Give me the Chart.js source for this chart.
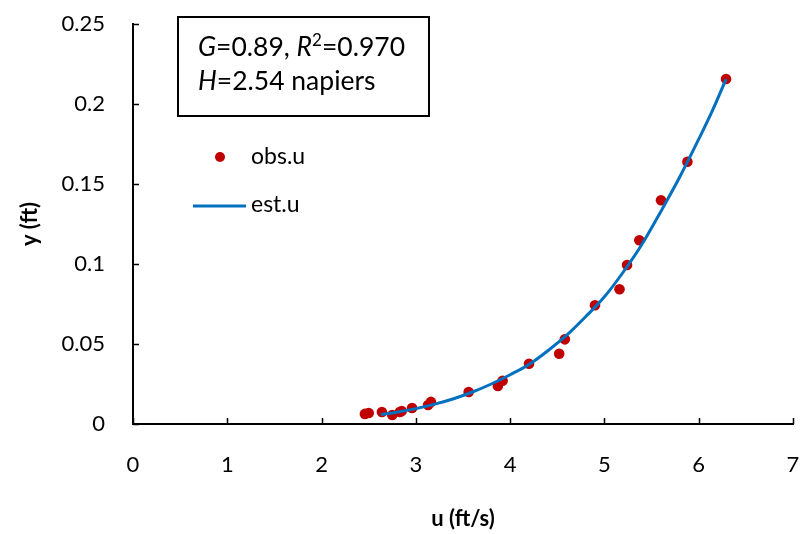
<!DOCTYPE html>
<html>
<head>
<meta charset="utf-8">
<script src="https://cdn.jsdelivr.net/npm/chart.js@4.4.1/dist/chart.umd.min.js"></script>
<style>
  html, body { margin: 0; padding: 0; background: #fff; }
  #wrap { width: 801px; height: 534px; position: relative; }
</style>
</head>
<body>
<div id="wrap"><canvas id="c" width="801" height="534"></canvas></div>
<script>
// ---- data ----
const obsU = [2.46, 2.50, 2.64, 2.75, 2.83, 2.85, 2.96, 3.13, 3.16, 3.56, 3.87, 3.92, 4.20, 4.52, 4.58, 4.90, 5.16, 5.24, 5.37, 5.60, 5.88, 6.29];
const obsY = [0.0063, 0.0069, 0.0075, 0.0056, 0.0075, 0.0081, 0.0100, 0.0119, 0.0138, 0.0200, 0.0238, 0.0270, 0.0377, 0.0439, 0.0529, 0.0742, 0.0842, 0.0994, 0.1148, 0.1398, 0.1639, 0.2156];
const estU = [2.63, 2.8, 3.0, 3.2, 3.4, 3.6, 3.8, 4.0, 4.2, 4.4, 4.6, 4.8, 5.0, 5.2, 5.4, 5.6, 5.8, 6.0, 6.15, 6.29];
const estY = [0.0060, 0.0074, 0.0096, 0.0124, 0.0158, 0.0200, 0.0250, 0.0308, 0.0372, 0.0458, 0.0555, 0.0670, 0.0795, 0.0950, 0.1125, 0.1330, 0.1545, 0.1780, 0.1965, 0.2156];
const xTicks = [0, 1, 2, 3, 4, 5, 6, 7];
const yTicks = [0, 0.05, 0.1, 0.15, 0.2, 0.25];
const seriesNames = ['obs.u', 'est.u'];
const axisTitles = ['u (ft/s)', 'y (ft)'];
const boxLine2 = ['H', '=2.54 napiers'];

const FONT = 'Lato, "Open Sans", sans-serif';
const RED = '#C00000';
const BLUE = '#0070C0';

const overlay = {
  id: 'overlay',
  afterDraw(chart) {
    const ctx = chart.ctx;
    const xs = chart.scales.x, ys = chart.scales.y;
    const ca = chart.chartArea;
    ctx.save();
    // inward tick marks
    ctx.strokeStyle = '#000';
    ctx.lineWidth = 1.5;
    ctx.beginPath();
    xTicks.forEach(v => {
      const px = Math.round(xs.getPixelForValue(v)) + 0.5;
      ctx.moveTo(px, ca.bottom); ctx.lineTo(px, ca.bottom - 6);
    });
    yTicks.forEach(v => {
      const py = Math.round(ys.getPixelForValue(v)) + 0.5;
      ctx.moveTo(ca.left, py); ctx.lineTo(ca.left + 6, py);
    });
    ctx.stroke();

    // annotation box
    ctx.lineWidth = 2;
    ctx.strokeStyle = '#000';
    ctx.strokeRect(178, 17, 251, 99);
    ctx.fillStyle = '#000';
    ctx.textBaseline = 'alphabetic';
    ctx.textAlign = 'left';
    const fs = 26.5;
    let x = 198, y = 56;
    const seg = (t, italic, size, dy) => {
      ctx.font = (italic ? 'italic ' : '') + (size || fs) + 'px ' + FONT;
      ctx.fillText(t, x, y + (dy || 0));
      x += ctx.measureText(t).width;
    };
    seg('G', true); seg('=0.89, ', false); seg('R', true); seg('2', false, 17, -10); seg('=0.970', false);
    x = 198; y = 90;
    seg(boxLine2[0], true); seg(boxLine2[1], false);

    // legend
    ctx.fillStyle = RED;
    ctx.beginPath(); ctx.arc(220, 157, 5, 0, Math.PI * 2); ctx.fill();
    ctx.strokeStyle = BLUE; ctx.lineWidth = 3;
    ctx.beginPath(); ctx.moveTo(193, 206); ctx.lineTo(246, 206); ctx.stroke();
    ctx.fillStyle = '#000';
    ctx.font = '23px ' + FONT;
    ctx.textBaseline = 'middle';
    ctx.fillText(seriesNames[0], 251, 157);
    ctx.fillText(seriesNames[1], 251, 205);
    ctx.restore();
  }
};

function noPad(s) { s.paddingTop = 0; s.paddingBottom = 0; s.paddingLeft = 0; s.paddingRight = 0; }

new Chart(document.getElementById('c'), {
  type: 'scatter',
  data: {
    datasets: [
      {
        label: seriesNames[0],
        data: obsU.map((u, i) => ({ x: u, y: obsY[i] })),
        backgroundColor: RED,
        borderColor: RED,
        pointRadius: 5.3,
        pointBorderWidth: 0,
        order: 2
      },
      {
        type: 'line',
        label: seriesNames[1],
        data: estU.map((u, i) => ({ x: u, y: estY[i] })),
        borderColor: BLUE,
        borderWidth: 3,
        pointRadius: 0,
        fill: false,
        cubicInterpolationMode: 'monotone',
        order: 1
      }
    ]
  },
  options: {
    responsive: false,
    animation: false,
    devicePixelRatio: 1,
    layout: { padding: { top: 24, right: 8, left: 0, bottom: 0 } },
    plugins: { legend: { display: false }, tooltip: { enabled: false } },
    scales: {
      x: {
        type: 'linear', min: 0, max: 7,
        afterFit(s) { s.height = 110; noPad(s); },
        afterBuildTicks(s) { s.ticks = xTicks.map(v => ({ value: v })); },
        grid: { display: false, drawTicks: false },
        border: { display: true, color: '#000', width: 2 },
        ticks: { color: '#000', font: { family: FONT, size: 22 }, padding: 28, maxRotation: 0 },
        title: { display: true, text: axisTitles[0], color: '#000', font: { family: FONT, size: 22, weight: 'bold' }, padding: { top: 0, bottom: 2 } }
      },
      y: {
        type: 'linear', min: 0, max: 0.25,
        afterFit(s) { s.width = 133; noPad(s); },
        afterBuildTicks(s) { s.ticks = yTicks.map(v => ({ value: v })); },
        grid: { display: false, drawTicks: false },
        border: { display: true, color: '#000', width: 2 },
        ticks: { color: '#000', font: { family: FONT, size: 22 }, padding: 28, callback: v => String(v) },
        title: { display: true, text: axisTitles[1], color: '#000', font: { family: FONT, size: 22, weight: 'bold' }, padding: { top: 17, bottom: 0 } }
      }
    }
  },
  plugins: [overlay]
});
</script>
</body>
</html>
